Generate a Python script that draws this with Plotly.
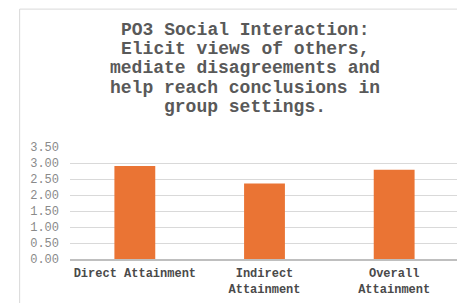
import plotly.graph_objects as go

categories = ["Direct Attainment", "Indirect<br>Attainment", "Overall<br>Attainment"]
values = [2.91, 2.36, 2.79]
title_lines = [
    "PO3 Social Interaction:",
    "Elicit views of others,",
    "mediate disagreements and",
    "help reach conclusions in",
    "group settings.",
]
y_ticks = [0, 0.5, 1.0, 1.5, 2.0, 2.5, 3.0, 3.5]

FONT = "Liberation Mono, Courier New, monospace"

# the page body adds an 8px offset, so layout targets are shifted by -8px
W, H = 465, 303
L, R, T, B = 61.5, 13.5, 139, 51.5
ph = H - T - B
pw = W - L - R

fig = go.Figure(go.Bar(
    x=categories, y=values,
    marker=dict(color="#EA7434", line=dict(width=0)),
    width=0.315,
))

# title lines as annotations (tight line spacing like the original)
centers_px = [21, 40.5, 60, 79.5, 99]
for line, cy in zip(title_lines, centers_px):
    fig.add_annotation(
        text=f"<b>{line}</b>", xref="paper", yref="paper",
        x=(237 - L) / pw, y=(H - B - cy) / ph,
        xanchor="center", yanchor="middle", showarrow=False,
        font=dict(family=FONT, size=18, color="#595959"),
    )

# chart border
fig.add_shape(type="rect", xref="paper", yref="paper",
              x0=(11 - L) / pw, x1=1.3, y0=-0.8, y1=(H - B - 0.5) / ph,
              line=dict(color="#d9d9d9", width=1), fillcolor="rgba(0,0,0,0)",
              layer="below")

fig.update_layout(
    width=W, height=H,
    margin=dict(l=L, r=R, t=T, b=B, pad=0),
    paper_bgcolor="white", plot_bgcolor="white",
    showlegend=False,
    font=dict(family=FONT, color="#595959"),
    xaxis=dict(
        showgrid=False, showline=True, linecolor="#bfbfbf", linewidth=1.5,
        ticks="", ticklabelstandoff=2,
        tickfont=dict(family=FONT, size=12, color="#4a4a4a", weight="bold"),
        fixedrange=True,
    ),
    yaxis=dict(
        range=[0, 3.5], tickvals=y_ticks, tickformat=".2f",
        showgrid=True, gridcolor="#d9d9d9", gridwidth=1,
        zeroline=False, showline=False, ticks="",
        ticklabelstandoff=10,
        tickfont=dict(family=FONT, size=12, color="#8a8a8a"),
        fixedrange=True,
    ),
)

fig.write_html("out.html")
